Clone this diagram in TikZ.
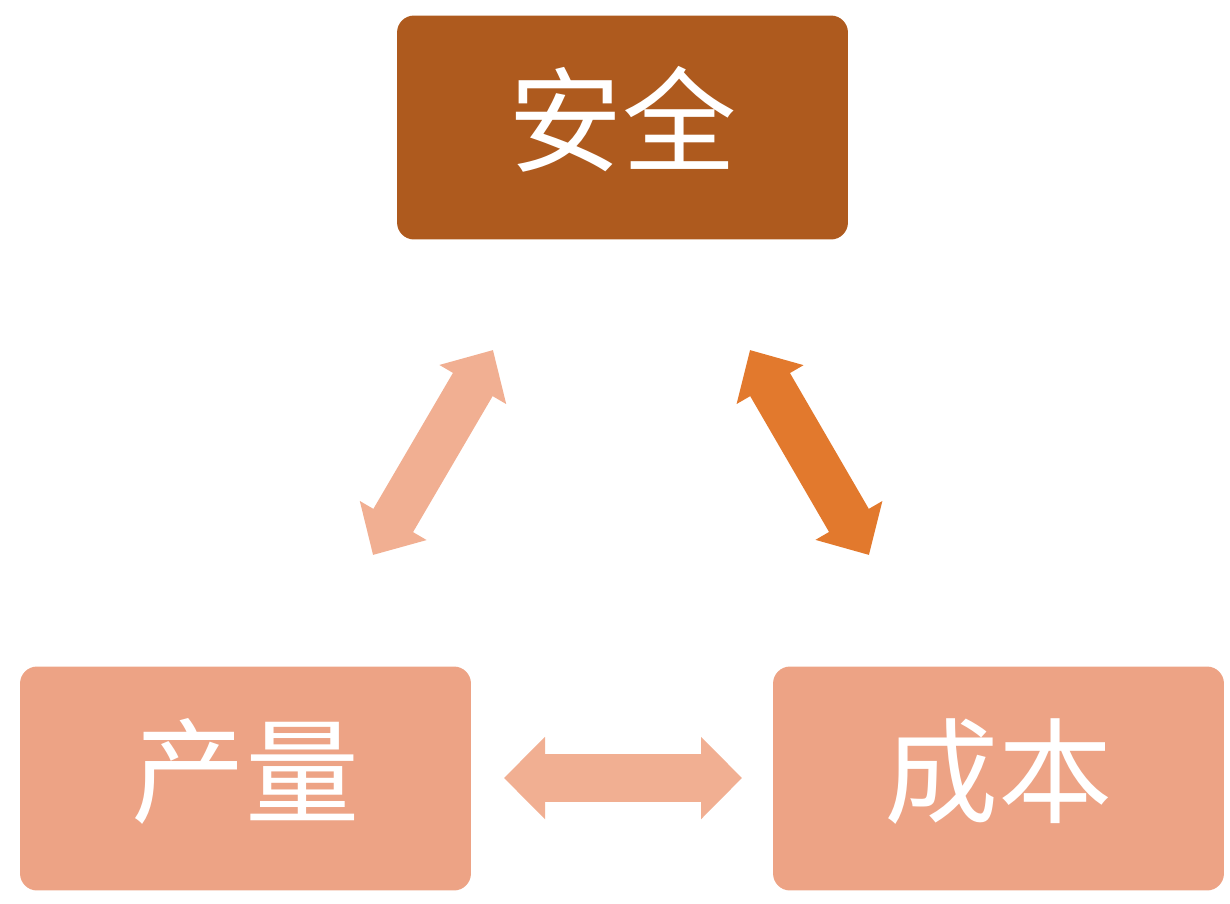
\documentclass[tikz,border=0pt]{standalone}
\usepackage{fontspec}
\newfontfamily\cjk{Noto Sans CJK SC}
\usetikzlibrary{arrows.meta}
\definecolor{brun}{RGB}{174,90,30}
\definecolor{saumon}{RGB}{237,163,133}
\definecolor{peche}{RGB}{241,175,146}
\definecolor{orange}{RGB}{226,121,45}
\newcommand{\etiq}[1]{\raisebox{14pt}{#1}}
\begin{document}
\begin{tikzpicture}[x=0.02cm,y=-0.02cm,
  boite/.style={rounded corners=0.34cm, minimum width=9.02cm, minimum height=4.48cm, text=white, font=\cjk\fontsize{65}{72}\selectfont},
  fleche/.style={line width=0.92cm, {Triangle[length=0.8cm,width=1.5cm]}-{Triangle[length=0.8cm,width=1.5cm]}}]
\useasboundingbox (0,0) rectangle (1230,903);

\node [boite, fill=brun] (S) at (622.5,127.5) {\etiq{安全}};
\node [boite, fill=saumon] (P) at (245.5,778.5) {\etiq{产量}};
\node [boite, fill=saumon] (C) at (998.5,778.5) {\etiq{成本}};

\coordinate (p1) at (373,555);
\coordinate (s1) at (493,350);
\coordinate (s2) at (750,350);
\coordinate (c2) at (869,555);
\coordinate (p3) at (504,778);
\coordinate (c3) at (742,778);

\draw [fleche, peche] (p1) -- (s1);
\draw [fleche, orange] (s2) -- (c2);
\draw [peche, line width=0.96cm, {Triangle[length=0.82cm,width=1.6cm]}-{Triangle[length=0.82cm,width=1.6cm]}] (p3) -- (c3);

\end{tikzpicture}
\end{document}
